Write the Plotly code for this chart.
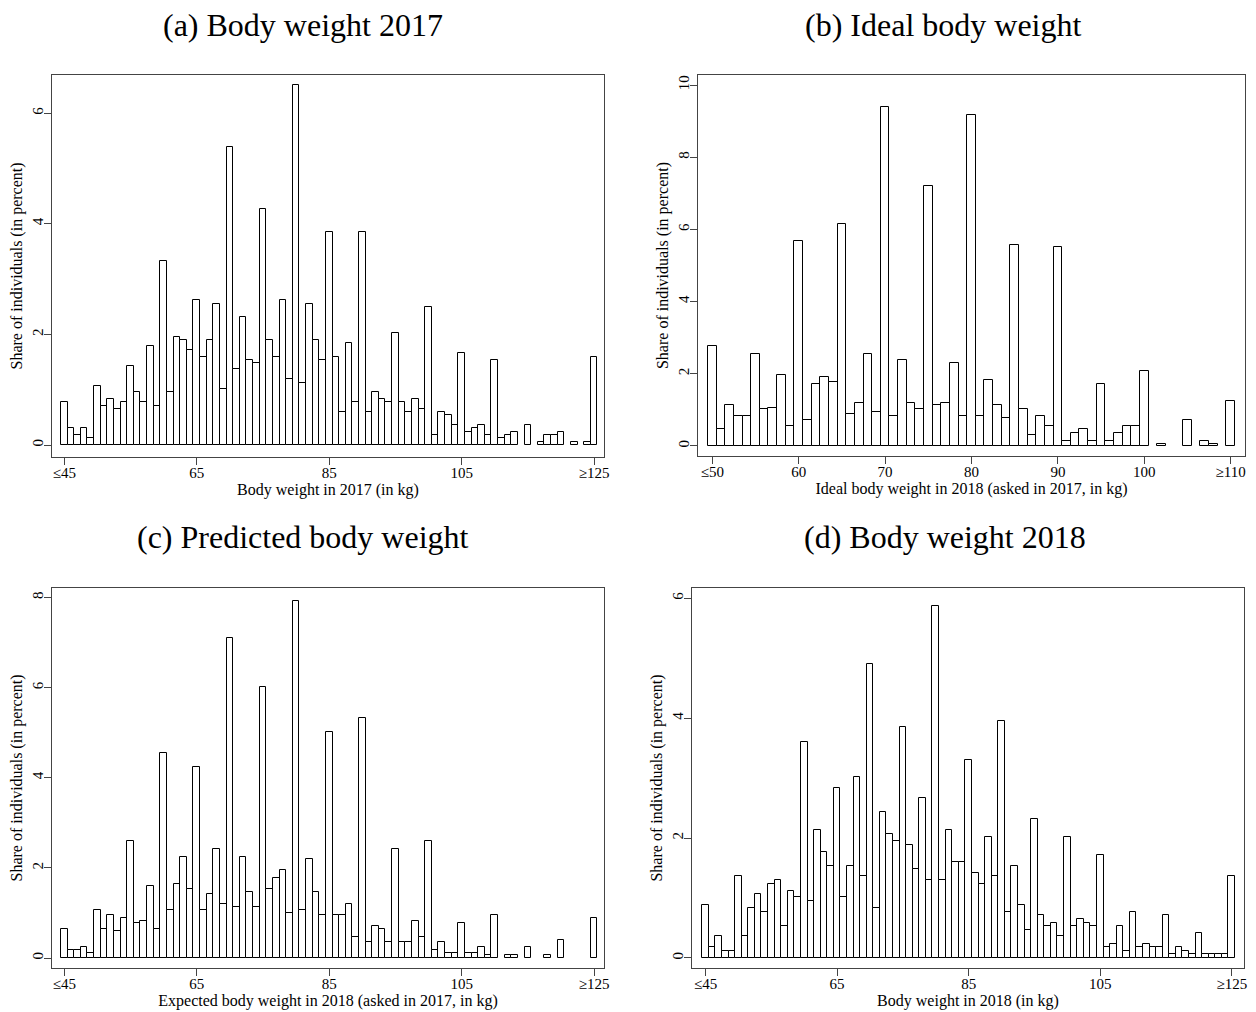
import plotly.graph_objects as go

# bins of 1 kg; first and last bin are open ("≤" / "≥")
kg_45_125 = list(range(45, 126))
kg_50_110 = list(range(50, 111))

# (a) body weight 2017, share in percent
weight_2017 = [
    0.77, 0.30, 0.18, 0.30, 0.12, 1.07, 0.71, 0.83, 0.66, 0.77,
    1.43, 0.95, 0.77, 1.79, 0.71, 3.32, 0.95, 1.96, 1.90, 1.72,
    2.62, 1.60, 1.90, 2.55, 1.01, 5.39, 1.37, 2.32, 1.54, 1.48,
    4.26, 1.90, 1.60, 2.62, 1.19, 6.51, 1.13, 2.55, 1.90, 1.54,
    3.85, 1.60, 0.60, 1.84, 0.77, 3.85, 0.60, 0.95, 0.83, 0.77,
    2.02, 0.77, 0.60, 0.83, 0.66, 2.49, 0.18, 0.60, 0.54, 0.36,
    1.66, 0.24, 0.30, 0.36, 0.18, 1.54, 0.12, 0.18, 0.24, 0,
    0.36, 0, 0.06, 0.18, 0.18, 0.24, 0, 0.06, 0, 0.06,
    1.60,
]

# (b) ideal body weight
ideal_weight = [
    2.78, 0.48, 1.13, 0.82, 0.82, 2.54, 1.01, 1.06, 1.96, 0.54,
    5.68, 0.71, 1.71, 1.90, 1.78, 6.15, 0.89, 1.19, 2.54, 0.95,
    9.40, 0.82, 2.37, 1.19, 1.01, 7.20, 1.13, 1.19, 2.31, 0.82,
    9.17, 0.82, 1.83, 1.13, 0.77, 5.56, 1.01, 0.30, 0.82, 0.54,
    5.50, 0.13, 0.36, 0.48, 0.13, 1.71, 0.13, 0.36, 0.54, 0.54,
    2.07, 0, 0.06, 0, 0, 0.71, 0, 0.13, 0.06, 0,
    1.24,
]

# (c) predicted body weight
predicted_weight = [
    0.65, 0.18, 0.18, 0.24, 0.12, 1.07, 0.65, 0.95, 0.59, 0.89,
    2.60, 0.77, 0.83, 1.60, 0.65, 4.55, 1.07, 1.65, 2.24, 1.53,
    4.25, 1.07, 1.42, 2.42, 1.19, 7.09, 1.13, 2.24, 1.47, 1.13,
    6.02, 1.53, 1.77, 1.95, 1.01, 7.92, 1.07, 2.19, 1.47, 0.95,
    5.02, 0.95, 0.95, 1.19, 0.47, 5.32, 0.36, 0.71, 0.65, 0.36,
    2.42, 0.36, 0.36, 0.83, 0.47, 2.60, 0.18, 0.36, 0.12, 0.12,
    0.77, 0.12, 0.12, 0.24, 0.06, 0.95, 0, 0.06, 0.06, 0,
    0.24, 0, 0, 0.06, 0, 0.41, 0, 0, 0, 0,
    0.89,
]

# (d) body weight 2018
weight_2018 = [
    0.89, 0.18, 0.36, 0.12, 0.12, 1.36, 0.36, 0.83, 1.07, 0.77,
    1.24, 1.30, 0.53, 1.12, 1.01, 3.61, 0.95, 2.13, 1.77, 1.54,
    2.84, 1.01, 1.54, 3.02, 1.36, 4.91, 0.83, 2.43, 2.07, 1.95,
    3.85, 1.89, 1.48, 2.66, 1.30, 5.87, 1.30, 2.13, 1.60, 1.60,
    3.31, 1.42, 1.24, 2.01, 1.36, 3.96, 0.77, 1.54, 0.89, 0.47,
    2.31, 0.71, 0.53, 0.59, 0.36, 2.01, 0.53, 0.65, 0.59, 0.53,
    1.72, 0.18, 0.24, 0.53, 0.12, 0.77, 0.18, 0.24, 0.18, 0.18,
    0.71, 0.06, 0.18, 0.12, 0.06, 0.42, 0.06, 0.06, 0.06, 0.06,
    1.36,
]

ticks_45 = [45, 65, 85, 105, 125]
ticklabels_45 = ["≤45", "65", "85", "105", "≥125"]
ticks_50 = [50, 60, 70, 80, 90, 100, 110]
ticklabels_50 = ["≤50", "60", "70", "80", "90", "100", "≥110"]

W, H = 1256, 1012
SERIF = "Liberation Serif"

panels = [
    dict(x=kg_45_125, y=weight_2017, ticks=ticks_45, labels=ticklabels_45,
         yticks=[0, 2, 4, 6], xrange=[43.14, 126.5], yrange=[-0.217, 6.69],
         box=(52, 604, 75, 457), title="(a) Body weight 2017", tx=303, ty=25,
         xtitle="Body weight in 2017 (in kg)"),
    dict(x=kg_50_110, y=ideal_weight, ticks=ticks_50, labels=ticklabels_50,
         yticks=[0, 2, 4, 6, 8, 10], xrange=[48.34, 111.66], yrange=[-0.28, 10.28],
         box=(698, 1245, 75, 456), title="(b) Ideal body weight", tx=943, ty=25,
         xtitle="Ideal body weight in 2018 (asked in 2017, in kg)"),
    dict(x=kg_45_125, y=predicted_weight, ticks=ticks_45, labels=ticklabels_45,
         yticks=[0, 2, 4, 6, 8], xrange=[43.14, 126.5], yrange=[-0.22, 8.21],
         box=(52, 604, 588, 968), title="(c) Predicted body weight", tx=303, ty=537,
         xtitle="Expected body weight in 2018 (asked in 2017, in kg)"),
    dict(x=kg_45_125, y=weight_2018, ticks=ticks_45, labels=ticklabels_45,
         yticks=[0, 2, 4, 6], xrange=[42.94, 126.86], yrange=[-0.167, 6.17],
         box=(692, 1244, 588, 968), title="(d) Body weight 2018", tx=945, ty=537,
         xtitle="Body weight in 2018 (in kg)"),
]

fig = go.Figure()
layout = {}
annotations = []

for i, p in enumerate(panels, start=1):
    sfx = "" if i == 1 else str(i)
    x0, x1, y0, y1 = p["box"]
    fig.add_trace(go.Bar(
        x=p["x"],
        y=[v if v > 0 else None for v in p["y"]],
        width=1,
        marker=dict(color="white", line=dict(color="black", width=1)),
        xaxis="x" + sfx,
        yaxis="y" + sfx,
        showlegend=False,
        hovertemplate="%{x} kg<br>%{y:.2f}%<extra></extra>",
    ))
    axis_common = dict(
        showgrid=False, zeroline=False, showline=True, mirror=True,
        linecolor="#444", linewidth=1.3, ticks="outside", ticklen=7,
        tickcolor="#444", tickwidth=1.2, automargin=False,
        ticklabelstandoff=-5,
        tickfont=dict(family=SERIF, size=15, color="black"),
    )
    layout["xaxis" + sfx] = dict(
        axis_common,
        domain=[x0 / W, x1 / W],
        anchor="y" + sfx,
        range=p["xrange"],
        tickvals=p["ticks"],
        ticktext=p["labels"],
        title=dict(text=p["xtitle"], standoff=1,
                   font=dict(family=SERIF, size=16, color="black")),
    )
    layout["yaxis" + sfx] = dict(
        axis_common,
        domain=[1 - y1 / H, 1 - y0 / H],
        anchor="x" + sfx,
        range=p["yrange"],
        tickvals=p["yticks"],
        tickangle=-90,
        title=dict(text="Share of individuals (in percent)", standoff=3,
                   font=dict(family=SERIF, size=16, color="black")),
    )
    annotations.append(dict(
        text=p["title"], x=p["tx"] / W, y=1 - p["ty"] / H,
        xref="paper", yref="paper", xanchor="center", yanchor="middle",
        showarrow=False, font=dict(family=SERIF, size=32, color="black"),
    ))

fig.update_layout(
    **layout,
    annotations=annotations,
    width=W,
    height=H,
    margin=dict(l=0, r=0, t=0, b=0),
    paper_bgcolor="white",
    plot_bgcolor="white",
    bargap=0,
)

# drop the default page margin so the figure starts at the window corner
fig.write_html(
    "out.html",
    config={"displayModeBar": False},
    post_script="document.body.style.margin = '0';",
)
